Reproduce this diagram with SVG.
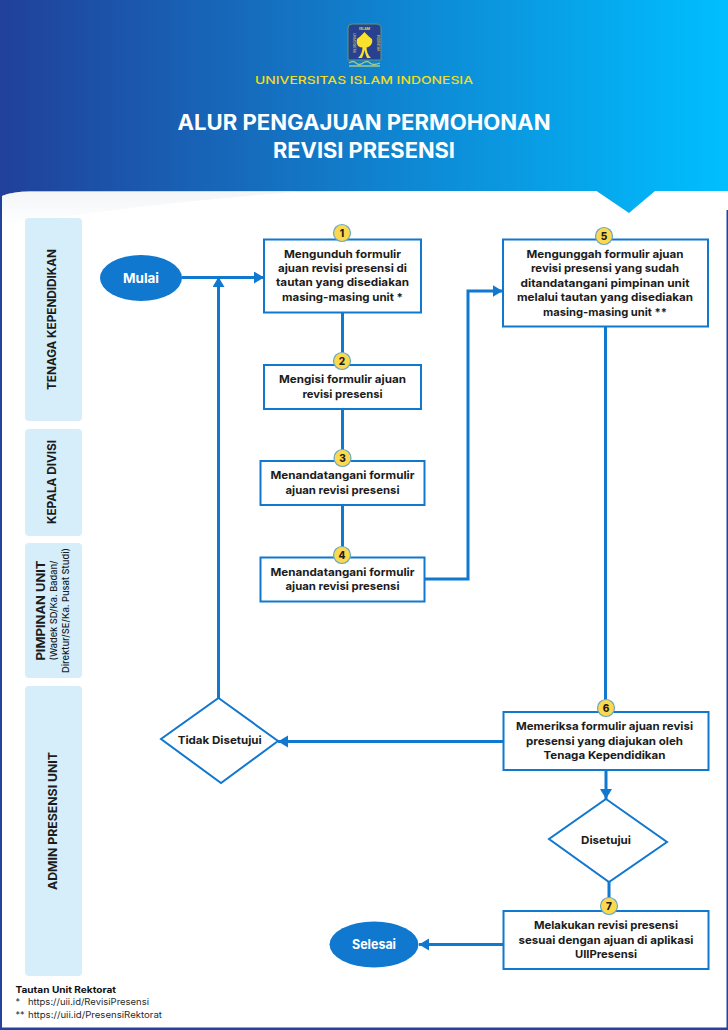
<svg xmlns="http://www.w3.org/2000/svg" width="728" height="1030" viewBox="0 0 728 1030">
<style>
text{font-family:"Inter","Noto Sans","Liberation Sans",sans-serif;text-anchor:middle}
.t{font-size:11px;font-weight:700;fill:#1c1c1c}
.lane{fill:#d5eefa}
.l{font-size:12px;font-weight:700;fill:#1c1c1c}
.s{font-size:9.5px;font-weight:500;fill:#1c1c1c}
.box{fill:#fff;stroke:#1178cf;stroke-width:2}
.dia{fill:#fff;stroke:#1178cf;stroke-width:2}
.ell{fill:#1178cf}
.et{font-size:13px;font-weight:700;fill:#fff}
.num{fill:#fcd94c;stroke:#6aa6c4;stroke-width:1.2}
.nt{font-size:10px;font-weight:800;fill:#1c1c1c}
.c{fill:none;stroke:#1178cf;stroke-width:3}
.ca{fill:none;stroke:#1178cf;stroke-width:3;marker-end:url(#arrow)}
.f{font-size:9px;font-weight:400;fill:#2a2a2a;text-anchor:start}
.title{font-size:21px;font-weight:700;fill:#fff}
</style>
<defs>
<linearGradient id="head" x1="0" y1="0" x2="1" y2="0"><stop offset="0" stop-color="#21409a"/><stop offset="1" stop-color="#00bfff"/></linearGradient>
<linearGradient id="sh" x1="0" y1="0" x2="0" y2="1"><stop offset="0" stop-color="#eef1f4"/><stop offset="1" stop-color="#fff"/></linearGradient>
<marker id="arrow" markerUnits="userSpaceOnUse" markerWidth="12" markerHeight="14" refX="10" refY="6" orient="auto"><path d="M0,0 L10,6 L0,12 Z" fill="#1178cf"/></marker>
</defs>

<g id="background">
<rect x="0" y="0" width="728" height="1030" fill="#25439c"/>
<rect x="0" y="0" width="728" height="216" fill="url(#head)"/>
<path d="M2,196 Q12,191.500 30,191.500 L596.500,191 L629,213 L655,191 L728,191 L728,1027.500 L2,1027.500 Z" fill="#fff"/>
<path d="M2,196 Q12,191.500 30,191.500 L300,191.500 Q130,205 2,226 Z" fill="url(#sh)" opacity=".7"/>
<rect x="726.500" y="210" width="1.500" height="818" fill="#25439c"/>
</g>

<g id="logo">
<path d="M348,28 Q348,24 352,24 L376,24 Q381,24 381,28 L381,60 L348,60 Z" fill="#27408f" stroke="#5f9a78" stroke-width="1"/>
<text x="364.500" y="29.500" font-size="3.500" style="fill:#f5e04a;font-weight:600">ISLAM</text>
<text transform="translate(352.500,43) rotate(90)" font-size="3" style="fill:#f5e04a">UNIVERSITAS</text>
<text transform="translate(377,43) rotate(90)" font-size="3" style="fill:#f5e04a">INDONESIA</text>
<path d="M364.500,32 Q369,37 372,39 Q373,43 370,46 Q367,48 364.500,47.500 Q361,48 358,46 Q356,43 357,39 Q360,37 364.500,32 Z" fill="#fbe02c"/>
<path d="M362.500,47 Q362.500,54 358,58 L362,58 Q364,53 364.500,50 Q365,53 367,58 L371,58 Q366.500,54 366.500,47 Z" fill="#fbe02c"/>
<path d="M349,63 q4,-3 7,0 t7,0 t7,0 t10,0 M349,66 h31" fill="none" stroke="#9fc98a" stroke-width="1.300"/>
</g>
<text id="univ" x="364" y="84" font-size="11" textLength="218" lengthAdjust="spacingAndGlyphs" style="fill:#f3dc1f;font-weight:500">UNIVERSITAS ISLAM INDONESIA</text>
<g id="title">
<text class="title" x="364" y="130" textLength="373" lengthAdjust="spacingAndGlyphs">ALUR PENGAJUAN PERMOHONAN</text>
<text class="title" x="364" y="158" textLength="182" lengthAdjust="spacingAndGlyphs">REVISI PRESENSI</text>
</g>

<g id="lane-tenaga"><rect class="lane" x="25" y="218" width="57" height="203" rx="4"/><text class="l" transform="translate(56,319.500) rotate(-90)" textLength="141" lengthAdjust="spacingAndGlyphs">TENAGA KEPENDIDIKAN</text></g>
<g id="lane-kepala"><rect class="lane" x="25" y="429" width="57" height="107" rx="4"/><text class="l" transform="translate(56,482) rotate(-90)" textLength="84" lengthAdjust="spacingAndGlyphs">KEPALA DIVISI</text></g>
<g id="lane-pimpinan"><rect class="lane" x="25" y="543" width="57" height="135" rx="4"/>
<text class="l" transform="translate(44.500,610.500) rotate(-90)" textLength="100" lengthAdjust="spacingAndGlyphs">PIMPINAN UNIT</text>
<text class="s" transform="translate(57,610.500) rotate(-90)" textLength="100" lengthAdjust="spacingAndGlyphs">(Wadek SD/Ka. Badan/</text>
<text class="s" transform="translate(69,610.500) rotate(-90)" textLength="125" lengthAdjust="spacingAndGlyphs">Direktur/SE/Ka. Pusat Studi)</text></g>
<g id="lane-admin"><rect class="lane" x="25" y="686" width="57" height="290" rx="4"/><text class="l" transform="translate(57,821) rotate(-90)" textLength="138" lengthAdjust="spacingAndGlyphs">ADMIN PRESENSI UNIT</text></g>

<g id="connectors">
<path class="ca" d="M182,277.500 H264"/>
<path class="ca" d="M218.500,698 V277"/>
<path class="c" d="M342.500,313 V365"/>
<path class="c" d="M342.500,409 V461"/>
<path class="c" d="M342.500,505 V557"/>
<path class="ca" d="M425,579 H468 V291 H502.500"/>
<path class="c" d="M605.500,327 V712"/>
<path class="ca" d="M606,770 V799"/>
<path class="c" d="M609,882 V911"/>
<path class="ca" d="M503,741.500 H278"/>
<path class="ca" d="M503,944.500 H419"/>
</g>

<g id="mulai"><ellipse class="ell" cx="141" cy="278" rx="41" ry="23"/><text class="et" x="141" y="282.500" textLength="36" lengthAdjust="spacingAndGlyphs">Mulai</text></g>

<g id="step1"><rect class="box" x="264" y="239.500" width="157" height="73"/>
<text class="t" x="342.500" y="257.500" textLength="117" lengthAdjust="spacingAndGlyphs">Mengunduh formulir</text>
<text class="t" x="342.500" y="272" textLength="129" lengthAdjust="spacingAndGlyphs">ajuan revisi presensi di</text>
<text class="t" x="342.500" y="286" textLength="133" lengthAdjust="spacingAndGlyphs">tautan yang disediakan</text>
<text class="t" x="342.500" y="300.500" textLength="121" lengthAdjust="spacingAndGlyphs">masing-masing unit *</text>
<circle class="num" cx="342" cy="233" r="8.500"/><text class="nt" x="342" y="236.600">1</text></g>

<g id="step2"><rect class="box" x="264" y="365" width="157" height="44"/>
<text class="t" x="342.500" y="383" textLength="127" lengthAdjust="spacingAndGlyphs">Mengisi formulir ajuan</text>
<text class="t" x="342.500" y="397.500" textLength="80" lengthAdjust="spacingAndGlyphs">revisi presensi</text>
<circle class="num" cx="342" cy="361" r="8.500"/><text class="nt" x="342" y="364.600">2</text></g>

<g id="step3"><rect class="box" x="260.500" y="461" width="164" height="44"/>
<text class="t" x="342.500" y="479" textLength="144" lengthAdjust="spacingAndGlyphs">Menandatangani formulir</text>
<text class="t" x="342.500" y="493.500" textLength="114" lengthAdjust="spacingAndGlyphs">ajuan revisi presensi</text>
<circle class="num" cx="342.500" cy="458" r="8.500"/><text class="nt" x="342.500" y="461.600">3</text></g>

<g id="step4"><rect class="box" x="260.500" y="557.500" width="164" height="44"/>
<text class="t" x="342.500" y="575.500" textLength="144" lengthAdjust="spacingAndGlyphs">Menandatangani formulir</text>
<text class="t" x="342.500" y="590" textLength="114" lengthAdjust="spacingAndGlyphs">ajuan revisi presensi</text>
<circle class="num" cx="342" cy="555" r="8.500"/><text class="nt" x="342" y="558.600">4</text></g>

<g id="step5"><rect class="box" x="503" y="239.500" width="205" height="87"/>
<text class="t" x="605" y="257.500" textLength="157" lengthAdjust="spacingAndGlyphs">Mengunggah formulir ajuan</text>
<text class="t" x="605" y="272" textLength="148" lengthAdjust="spacingAndGlyphs">revisi presensi yang sudah</text>
<text class="t" x="605" y="286.500" textLength="169" lengthAdjust="spacingAndGlyphs">ditandatangani pimpinan unit</text>
<text class="t" x="605" y="301" textLength="176" lengthAdjust="spacingAndGlyphs">melalui tautan yang disediakan</text>
<text class="t" x="605" y="315.500" textLength="124" lengthAdjust="spacingAndGlyphs">masing-masing unit **</text>
<circle class="num" cx="604" cy="236" r="8.500"/><text class="nt" x="604" y="239.600">5</text></g>

<g id="step6"><rect class="box" x="503.500" y="712" width="205" height="58"/>
<text class="t" x="604.500" y="730" textLength="177" lengthAdjust="spacingAndGlyphs">Memeriksa formulir ajuan revisi</text>
<text class="t" x="604.500" y="744.500" textLength="157" lengthAdjust="spacingAndGlyphs">presensi yang diajukan oleh</text>
<text class="t" x="604.500" y="759" textLength="122" lengthAdjust="spacingAndGlyphs">Tenaga Kependidikan</text>
<circle class="num" cx="606" cy="708" r="8.500"/><text class="nt" x="606" y="711.600">6</text></g>

<g id="decision-disetujui"><path class="dia" d="M606,799 L667,842 L609,882 L549,839 Z"/>
<text class="t" x="606" y="844" textLength="50" lengthAdjust="spacingAndGlyphs">Disetujui</text></g>

<g id="step7"><rect class="box" x="503.500" y="911" width="205" height="58"/>
<text class="t" x="606" y="929" textLength="144" lengthAdjust="spacingAndGlyphs">Melakukan revisi presensi</text>
<text class="t" x="606" y="943.500" textLength="175" lengthAdjust="spacingAndGlyphs">sesuai dengan ajuan di aplikasi</text>
<text class="t" x="606" y="958" textLength="62" lengthAdjust="spacingAndGlyphs">UIIPresensi</text>
<circle class="num" cx="609" cy="906" r="8.500"/><text class="nt" x="609" y="909.600">7</text></g>

<g id="decision-tidak"><path class="dia" d="M218.500,698 L278,741 L221,783 L161,739 Z"/>
<text class="t" x="219.700" y="744" textLength="84" lengthAdjust="spacingAndGlyphs">Tidak Disetujui</text></g>

<g id="selesai"><ellipse class="ell" cx="374" cy="944.500" rx="44.500" ry="23"/><text class="et" x="374" y="949" textLength="44" lengthAdjust="spacingAndGlyphs">Selesai</text></g>

<g id="footnote">
<text class="f" x="15.500" y="993" textLength="100.500" lengthAdjust="spacingAndGlyphs" style="font-weight:700;fill:#111">Tautan Unit Rektorat</text>
<text class="f" x="15.500" y="1005">*</text>
<text class="f" x="28" y="1005" textLength="121" lengthAdjust="spacingAndGlyphs">https://uii.id/RevisiPresensi</text>
<text class="f" x="15.500" y="1017.500">**</text>
<text class="f" x="28" y="1017.500" textLength="134" lengthAdjust="spacingAndGlyphs">https://uii.id/PresensiRektorat</text>
</g>
</svg>
